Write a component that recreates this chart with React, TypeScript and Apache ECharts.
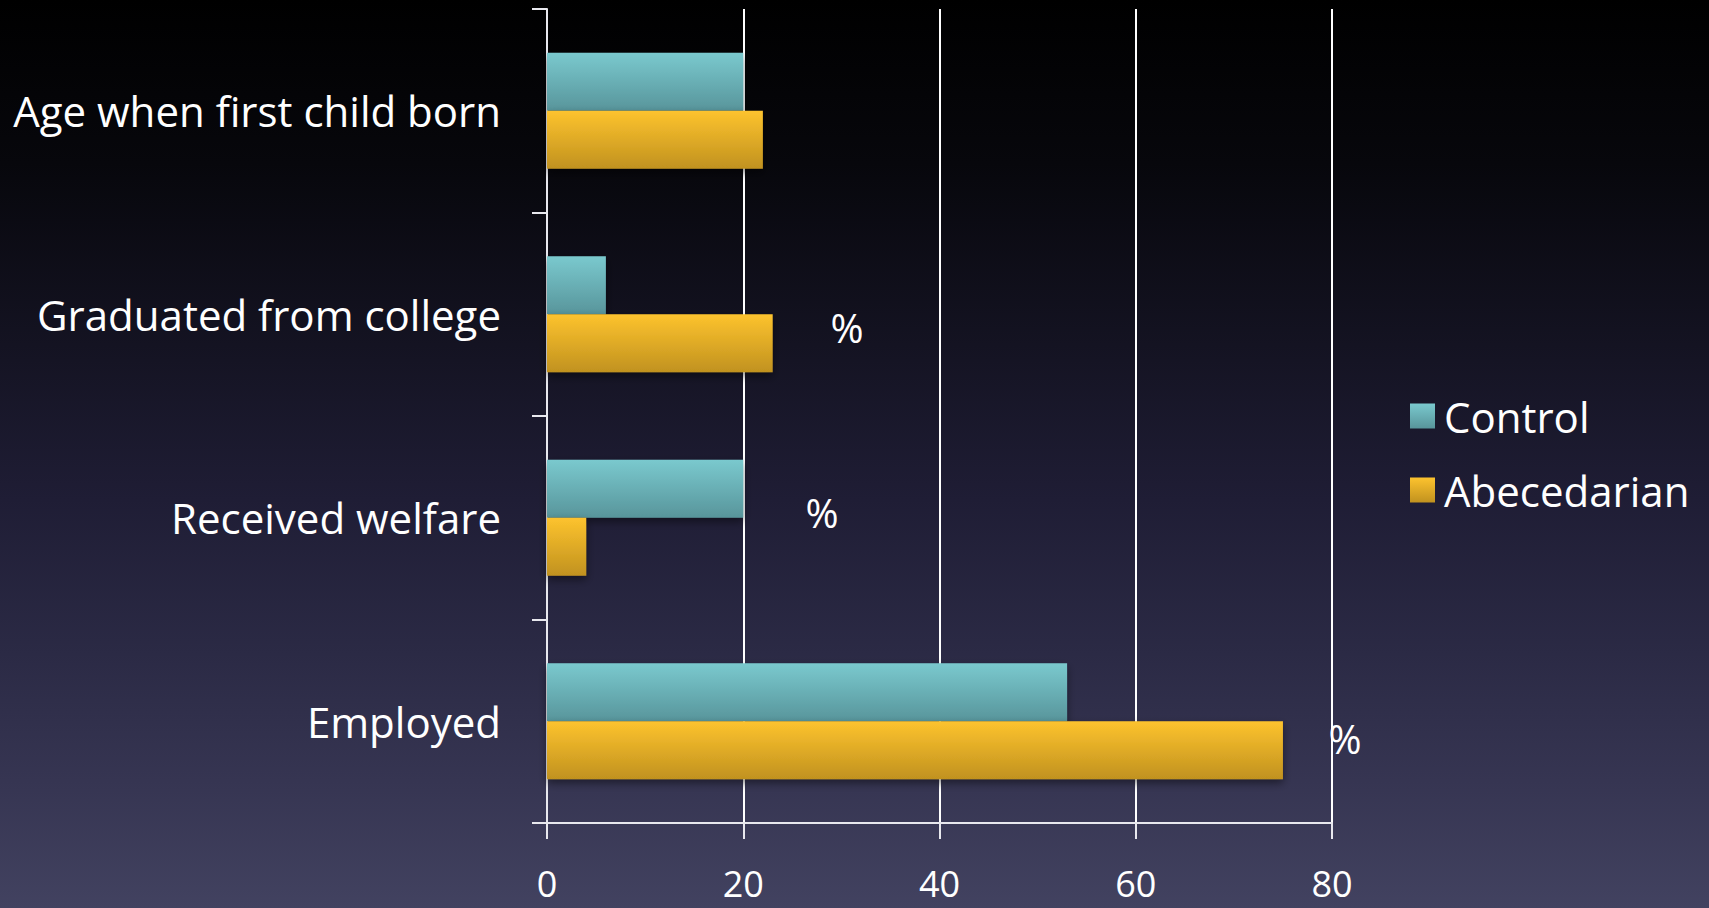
import React, { useEffect, useRef } from "react";
import * as echarts from "echarts";

const categories = ["Employed", "Received welfare", "Graduated from college", "Age when first child born"];
const controlValues = [53, 20, 6, 20];
const abecedarianValues = [75, 4, 23, 22];
const xTicks = [0, 20, 40, 60, 80];
const seriesNames = ["Control", "Abecedarian"];
const percentNotes = ["%", "%", "%"];

const FONT = "'Open Sans', Lato, sans-serif";

export default function App() {
  const ref = useRef<HTMLDivElement>(null);
  useEffect(() => {
    document.body.style.margin = "0";
    const chart = echarts.init(ref.current!, null, { renderer: "svg", width: 1709, height: 908 });
    const controlGrad = new echarts.graphic.LinearGradient(0, 0, 0, 1, [
      { offset: 0, color: "#7ac9ce" },
      { offset: 1, color: "#58959b" },
    ]);
    const abecGrad = new echarts.graphic.LinearGradient(0, 0, 0, 1, [
      { offset: 0, color: "#fdc32e" },
      { offset: 1, color: "#c1921f" },
    ]);
    const pctStyle = { fill: "#ffffff", font: `40px ${FONT}`, textAlign: "center", textVerticalAlign: "middle" };
    chart.setOption({
      animation: false,
      backgroundColor: "transparent",
      grid: { left: 547, right: 377, top: 9, bottom: 85, containLabel: false },
      legend: {
        orient: "vertical",
        left: 1405,
        top: 390,
        data: ["Control", "Abecedarian"],
        itemWidth: 25,
        itemHeight: 25,
        itemGap: 32,
        icon: "rect",
        textStyle: { color: "#ffffff", fontSize: 42, fontFamily: FONT, lineHeight: 42, padding: [0, 0, 0, 4] },
      },
      xAxis: {
        type: "value",
        min: 0,
        max: 80,
        interval: 20,
        axisLine: { show: true, lineStyle: { color: "#e8e8ee", width: 2 } },
        axisTick: { show: true, length: 16, lineStyle: { color: "#e8e8ee", width: 2 } },
        splitLine: { show: true, lineStyle: { color: "#ffffff", width: 2 } },
        axisLabel: {
          color: "#ffffff",
          fontSize: 36,
          fontFamily: FONT,
          margin: 42,
          formatter: (v: number) => (xTicks.includes(v) ? String(v) : ""),
        },
      },
      yAxis: {
        type: "category",
        data: categories,
        axisLine: { show: true, lineStyle: { color: "#e8e8ee", width: 2 } },
        axisTick: { show: true, length: 15, lineStyle: { color: "#e8e8ee", width: 2 } },
        axisLabel: { color: "#ffffff", fontSize: 42, fontFamily: FONT, margin: 46 },
      },
      series: [
        {
          name: seriesNames[0],
          type: "bar",
          data: controlValues,
          barWidth: 58,
          barGap: "0%",
          itemStyle: { color: controlGrad, shadowColor: "rgba(0,0,0,0.45)", shadowBlur: 8, shadowOffsetY: 4 },
        },
        {
          name: seriesNames[1],
          type: "bar",
          data: abecedarianValues,
          barWidth: 58,
          barGap: "0%",
          itemStyle: { color: abecGrad, shadowColor: "rgba(0,0,0,0.45)", shadowBlur: 8, shadowOffsetY: 4 },
        },
      ],
      graphic: [
        { type: "text", x: 847, y: 327, style: { ...pctStyle, text: percentNotes[0] } },
        { type: "text", x: 822, y: 512, style: { ...pctStyle, text: percentNotes[1] } },
        { type: "text", x: 1345, y: 738, style: { ...pctStyle, text: percentNotes[2] } },
      ],
    });
    return () => chart.dispose();
  }, []);
  return (
    <div
      style={{
        position: "fixed",
        left: 0,
        top: 0,
        width: 1709,
        height: 908,
        background:
          "linear-gradient(to bottom, #000000 0%, #07070c 18%, #141322 38%, #1f1d35 55%, #2b2a45 72%, #363552 86%, #424260 100%)",
      }}
    >
      <div ref={ref} style={{ width: 1709, height: 908 }} />
    </div>
  );
}
